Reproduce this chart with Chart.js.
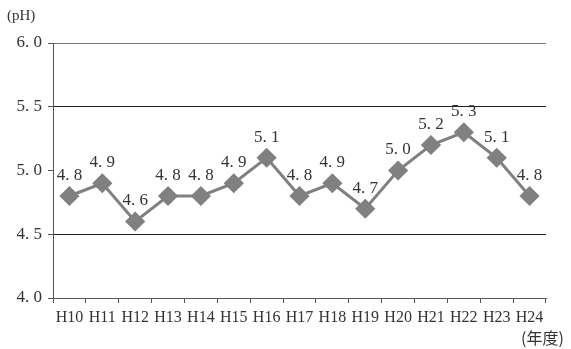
<!DOCTYPE html>
<html>
<head>
<meta charset="utf-8">
<script src="https://cdn.jsdelivr.net/npm/chart.js@4/dist/chart.umd.min.js"></script>
<style>
  html, body { margin: 0; padding: 0; background: #fff; }
  #wrap { position: relative; width: 571px; height: 349px; }
  .note { position: absolute; font-family: "Liberation Serif", "Noto Sans CJK JP", serif; color: #333; font-size: 15px; }
</style>
</head>
<body>
<div id="wrap">
  <canvas id="c" width="571" height="349"></canvas>
  <div class="note" style="left:7px; top:7px;">(pH)</div>
  <div class="note" style="left:521px; top:325px; font-family:'Noto Sans CJK JP', sans-serif; font-size:16px;">(年度)</div>
</div>
<script>
// Fiscal years and annual mean pH of rainfall
const years = ['H10','H11','H12','H13','H14','H15','H16','H17','H18','H19','H20','H21','H22','H23','H24'];
const phValues = [4.8, 4.9, 4.6, 4.8, 4.8, 4.9, 5.1, 4.8, 4.9, 4.7, 5.0, 5.2, 5.3, 5.1, 4.8];
const yTicks = [4.0, 4.5, 5.0, 5.5, 6.0];

const fmt = v => v.toFixed(1).replace('.', '. ');
const serif = '"Liberation Serif", "DejaVu Serif", serif';

// Writes each value above its marker
const valueLabels = {
  id: 'valueLabels',
  afterDatasetsDraw(chart) {
    const ctx = chart.ctx;
    const meta = chart.getDatasetMeta(0);
    ctx.save();
    ctx.font = '17px ' + serif;
    ctx.fillStyle = '#333';
    ctx.textAlign = 'center';
    ctx.textBaseline = 'bottom';
    meta.data.forEach((pt, i) => {
      ctx.fillText(fmt(phValues[i]), pt.x, pt.y - 12);
    });
    ctx.restore();
  }
};

new Chart(document.getElementById('c'), {
  type: 'line',
  data: {
    labels: years,
    datasets: [{
      data: phValues,
      borderColor: '#808080',
      backgroundColor: '#808080',
      borderWidth: 3,
      pointStyle: 'rectRot',
      pointRadius: 8,
      pointHoverRadius: 8,
      tension: 0
    }]
  },
  options: {
    responsive: false,
    animation: false,
    layout: { padding: { top: 43, right: 25, left: 0, bottom: 0 } },
    plugins: { legend: { display: false }, tooltip: { enabled: false } },
    scales: {
      x: {
        offset: true,
        grid: {
          offset: true,
          drawOnChartArea: false,
          drawTicks: true,
          tickLength: 5,
          color: '#555'
        },
        border: { color: '#555', width: 1 },
        ticks: {
          color: '#333',
          font: { family: serif, size: 16 },
          padding: 5,
          maxRotation: 0,
          autoSkip: false
        },
        afterFit(s) { s.height = 51; }
      },
      y: {
        min: 4.0,
        max: 6.0,
        afterBuildTicks(s) { s.ticks = yTicks.map(v => ({ value: v })); },
        grid: {
          color: ctx => {
            const v = ctx.tick ? ctx.tick.value : null;
            if (v === 4.5 || v === 5.5) return '#222';
            if (v === 6.0) return '#777';
            return 'rgba(0,0,0,0)';
          },
          tickColor: '#555',
          tickLength: 5
        },
        border: { color: '#555', width: 1 },
        ticks: {
          color: '#333',
          font: { family: serif, size: 17 },
          padding: 6,
          callback: v => fmt(v)
        },
        afterFit(s) { s.width = 53; }
      }
    }
  },
  plugins: [valueLabels]
});
</script>
</body>
</html>
